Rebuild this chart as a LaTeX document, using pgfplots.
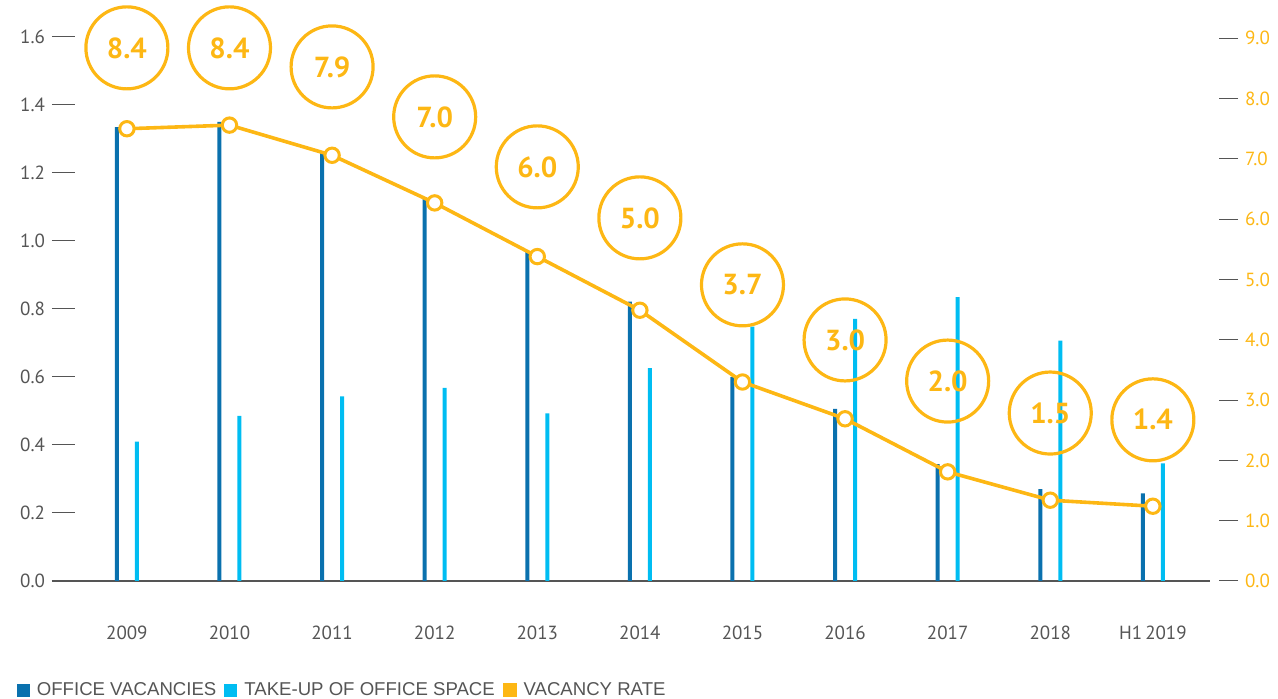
\documentclass[border=0pt]{standalone}
\usepackage{pgfplots}
\pgfplotsset{compat=1.18}
\usepackage{fontspec}
\setmainfont{PT Sans}
\newfontfamily\legfont{Liberation Sans}
\definecolor{dblue}{HTML}{0A71AE}
\definecolor{lblue}{HTML}{00BDF2}
\definecolor{vorange}{HTML}{FDB714}
\definecolor{tgray}{HTML}{555555}
\pgfplotsset{sqlegend/.style={legend image code/.code={\fill[##1] (0pt,-3.25pt) rectangle (6.5pt,3.25pt);}}}
\begin{document}
\begin{tikzpicture}
\useasboundingbox (-26pt,-59pt) rectangle (613pt,290.5pt);
\begin{axis}[
  scale only axis, width=593pt, height=290.5pt,
  xmin=-0.73, xmax=10.83, ymin=0, ymax=1.7088,
  axis x line*=bottom, axis y line*=left,
  axis line style={draw=none},
  xtick={0,1,2,3,4,5,6,7,8,9,10},
  xticklabels={2009,2010,2011,2012,2013,2014,2015,2016,2017,2018,H1\,2019},
  major x tick style={draw=none},
  xticklabel style={yshift=-19pt, text=tgray, font=\fontsize{9.5}{10}\selectfont},
  ytick={0,0.2,0.4,0.6,0.8,1.0,1.2,1.4,1.6},
  ytick align=inside, major tick length=11.5pt,
  major y tick style={tgray, line width=0.5pt},
  /pgf/number format/assume math mode=true,
  yticklabel style={text=tgray, font=\fontsize{9.5}{10}\selectfont,
    /pgf/number format/fixed, /pgf/number format/fixed zerofill, /pgf/number format/precision=1},
  legend columns=3,
  legend style={draw=none, fill=none, at={(-0.035,-0.188)}, anchor=west,
    font=\legfont\fontsize{9.3}{10}\selectfont, text=tgray,
    /tikz/every odd column/.append style={column sep=1.5pt},
    /tikz/every even column/.append style={column sep=2pt}},
  clip=false,
]
% circles with vacancy-rate labels
\addplot[draw=none, mark=none, forget plot,
  nodes near coords, point meta=explicit symbolic,
  nodes near coords align={center},
  nodes near coords style={anchor=center, circle, draw=vorange, line width=1.6pt,
    minimum size=41pt, inner sep=0pt, text=vorange,
    font=\bfseries\fontsize{14.5}{14.5}\selectfont}]
  table[meta=lab] {
x y lab
0 1.568 8.4
1 1.568 8.4
2 1.512 7.9
3 1.365 7.0
4 1.218 6.0
5 1.068 5.0
6 0.871 3.7
7 0.709 3.0
8 0.588 2.0
9 0.494 1.5
10 0.474 1.4
};
% baseline
\addplot[tgray, line width=0.6pt, forget plot] coordinates {(-0.73,0) (10.56,0)};
\addplot[ybar, bar width=2pt, bar shift=-5pt, fill=dblue, draw=none, sqlegend] coordinates {
(0,1.335) (1,1.350) (2,1.259) (3,1.125) (4,0.967) (5,0.822) (6,0.600) (7,0.506) (8,0.344) (9,0.270) (10,0.258)};
\addlegendentry{OFFICE VACANCIES}
\addplot[ybar, bar width=2pt, bar shift=5pt, fill=lblue, draw=none, sqlegend] coordinates {
(0,0.410) (1,0.486) (2,0.543) (3,0.568) (4,0.493) (5,0.626) (6,0.748) (7,0.771) (8,0.835) (9,0.707) (10,0.346)};
\addlegendentry{TAKE-UP OF OFFICE SPACE}
\addlegendimage{legend image code/.code={\fill[vorange] (0pt,-3.25pt) rectangle (6.5pt,3.25pt);}}
\addlegendentry{VACANCY RATE}
\end{axis}
\begin{axis}[
  scale only axis, width=593pt, height=290.5pt,
  xmin=-0.73, xmax=10.83, ymin=0, ymax=9.635,
  axis x line=none, axis y line*=right,
  axis line style={draw=none},
  ytick={0,1,2,3,4,5,6,7,8,9},
  ytick align=inside, major tick length=9.5pt,
  major y tick style={tgray, line width=0.5pt},
  /pgf/number format/assume math mode=true,
  yticklabel style={text=vorange, font=\fontsize{9.5}{10}\selectfont,
    /pgf/number format/fixed, /pgf/number format/fixed zerofill, /pgf/number format/precision=1},
  clip=false,
]
\addplot[vorange, line width=1.8pt, mark=*, mark size=3.6pt,
  mark options={fill=white, draw=vorange, line width=1.5pt}] coordinates {
(0,7.50) (1,7.56) (2,7.06) (3,6.27) (4,5.38) (5,4.49) (6,3.30) (7,2.69) (8,1.81) (9,1.34) (10,1.24)};
\end{axis}
\end{tikzpicture}
\end{document}
